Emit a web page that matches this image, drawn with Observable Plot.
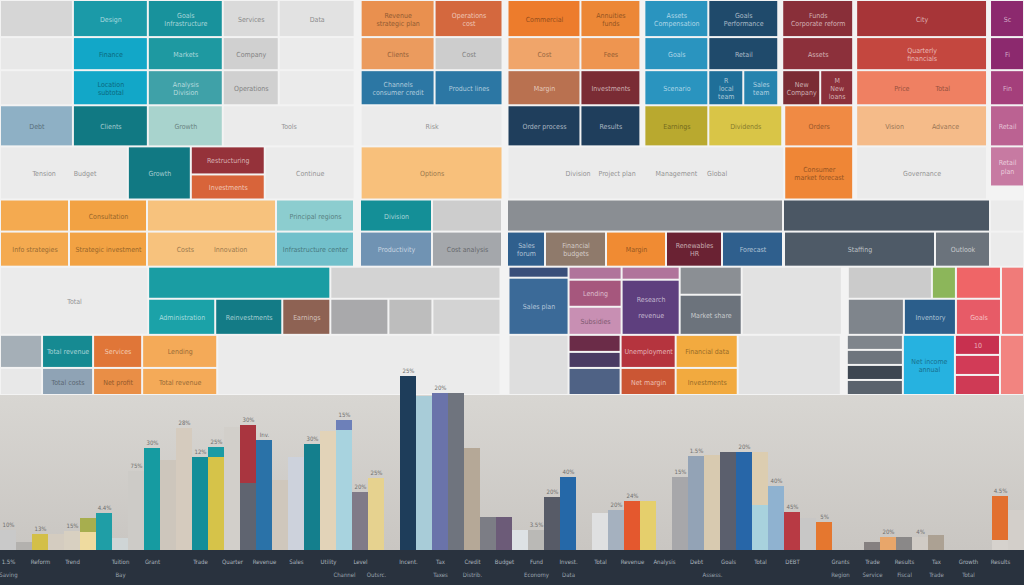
<!DOCTYPE html>
<html>
<head>
<meta charset="utf-8">
<script src="https://cdn.jsdelivr.net/npm/d3@7"></script>
<script src="https://cdn.jsdelivr.net/npm/@observablehq/plot@0.6"></script>
<style>
  html, body { margin: 0; padding: 0; background: #f2f2f2; }
  #chart { width: 1024px; height: 585px; overflow: hidden; position: relative; }
  #chart svg { display: block; overflow: visible; }
</style>
</head>
<body>
<div id="chart"></div>
<script>
// ---------- Mosaic (treemap-like) data: nested shares [share, tone, label] ----------
const mosaicRows = [
  [37, [[73,"g1"],[75,"teal","Design"],[75,"teal2","Goals\nInfrastructure"],[56,"g2","Services"],[76,"g3","Data"],[6,"bg"],
        [74,"or1","Revenue\nstrategic plan"],[68,"or2","Operations\ncost"],[5,"bg"],[73,"or3","Commercial"],[60,"or4","Annuities\nfunds"],[4,"bg"],
        [64,"bl1","Assets\nCompensation"],[70,"nv1","Goals\nPerformance"],[4,"bg"],[71,"mr1","Funds\nCorporate reform"],[3,"bg"],
        [131,"rd1","City"],[3,"bg"],[34,"pu1","Sc"]]],
  [33, [[73,"g4"],[75,"cyan","Finance"],[75,"teal3","Markets"],[56,"g5","Company"],[76,"g6"],[6,"bg"],
        [74,"or5","Clients"],[68,"g7","Cost"],[5,"bg"],[73,"or6","Cost"],[60,"or7","Fees"],[4,"bg"],
        [64,"bl1","Goals"],[70,"nv1","Retail"],[4,"bg"],[71,"mr2","Assets"],[3,"bg"],
        [131,"rd2","Quarterly\nfinancials"],[3,"bg"],[34,"pu1","Fi"]]],
  [35, [[73,"g4"],[75,"cyan","Location\nsubtotal"],[75,"teal4","Analysis\nDivision"],[56,"g5","Operations"],[76,"g6"],[6,"bg"],
        [74,"bl2","Channels\nconsumer credit"],[68,"bl2","Product lines"],[5,"bg"],[73,"br1","Margin"],[60,"mr3","Investments"],[4,"bg"],
        [64,"bl1","Scenario"],[35,"bl3","R\nlocal\nteam"],[35,"bl4","Sales\nteam"],[4,"bg"],[38,"mr3","New\nCompany"],[33,"mr2","M\nNew\nloans"],[3,"bg"],
        [131,"sal","Price             Total"],[3,"bg"],[34,"pu2","Fin"]]],
  [41, [[73,"stl","Debt"],[75,"tlD","Clients"],[75,"ptl","Growth"],[132,"g6","Tools"],[6,"bg"],[142,"g6","Risk"],[5,"bg"],
        [73,"nv2","Order process"],[60,"nv2","Results"],[4,"bg"],[64,"olv","Earnings"],[74,"ylw","Dividends"],[2,"bg"],
        [69,"or8","Orders"],[3,"bg"],[131,"pch","Vision              Advance"],[3,"bg"],[34,"pk1","Retail"]]],
  [53, [[128,"g6","Tension         Budget"],[63,"tlD","Growth"],[74,[[28,"mr4","Restructuring"],[25,"or10","Investments"]]],
        [90,"g6","Continue"],[6,"bg"],[142,"pch2","Options"],[5,"bg"],
        [277,"g6","Division    Project plan          Management     Global"],
        [69,"or9","Consumer\nmarket forecast"],[3,"bg"],[131,"g6","Governance"],[3,"bg"],[34,[[40,"pk2","Retail\nplan"],[13,"bg"]]]]],
  [32, [[69,"or11"],[78,"or12","Consultation"],[129,"or13"],[78,"ptl2","Principal regions"],[6,"bg"],[72,"tl5","Division"],[70,"g7"],[5,"bg"],
        [276,"gr1"],[207,"sl1"],[34,"g6"]]],
  [35, [[69,"or11","Info strategies"],[78,"or12","Strategic investment"],[129,"or13","Costs          Innovation"],[78,"tl6","Infrastructure center"],[6,"bg"],
        [72,"stl2","Productivity"],[70,"g8","Cost analysis"],[5,"bg"],[38,"bl5","Sales\nforum"],[61,"tp1","Financial\nbudgets"],[60,"or14","Margin"],
        [56,"mr5","Renewables\nHR"],[61,"bl5","Forecast"],[1,"bg"],[151,"sl2","Staffing"],[55,"sl3","Outlook"],[34,"g6"]]],
  [68, [[148,"g6","Total"],
        [182,[[32,"tl7"],[36,[[67,"tl8","Administration"],[67,"tl9","Reinvestments"],[48,"br2","Earnings"]]]]],
        [170,[[32,"g9"],[36,[[58,"g12"],[44,"g13"],[68,"g9"]]]]],
        [8,"bg"],
        [60,[[11,"nv3"],[57,"bl6","Sales plan"]]],
        [53,[[13,"pk5"],[27,"pk4","Lending"],[28,"pk6","Subsidies"]]],
        [58,[[13,"pk5"],[55,"pu3","Research\n\nrevenue"]]],
        [62,[[28,"gr2"],[40,"gr3","Market share"]]],
        [100,"g10"],[6,"bg"],
        [108,[[32,[[84,"g11"],[24,"grn"]]],[36,[[56,"gr4"],[52,"bl7","Inventory"]]]]],
        [45,[[32,"rd3"],[36,"rd4","Goals"]]],
        [23,"sal2"]]],
  [60, [[42,[[33,"stl3"],[27,"g4"]]],
        [51,[[33,"tl10","Total revenue"],[27,"stl4","Total costs"]]],
        [49,[[33,"or15","Services"],[27,"or16","Net profit"]]],
        [75,[[33,"or17","Lending"],[27,"or17","Total revenue"]]],
        [283,"g6"],[8,"bg"],[60,"g14"],
        [52,[[17,"mr6"],[16,"pu4"],[27,"pu5"]]],
        [55,[[33,"rd5","Unemployment"],[27,"or18","Net margin"]]],
        [62,[[33,"yl2","Financial data"],[27,"yl2","Investments"]]],
        [103,"g10"],[6,"bg"],
        [56,[[15,"gr4"],[15,"gr5"],[15,"sl4"],[15,"sl5"]]],
        [52,"cy2","Net income\nannual"],
        [45,[[20,"rd6","10"],[20,"rd7"],[20,"rd8"]]],
        [24,"sal3"]]]
];

const mosaicPalette = {
  g1:"#d6d6d6", g2:"#dadada", g3:"#e2e2e2", g4:"#e8e8e8", g5:"#d0d0d0", g6:"#ebebeb", g7:"#cdcdcd", g8:"#a4a7ab",
  g9:"#d3d3d3", g10:"#e2e2e2", g11:"#cbcbcb", g12:"#a9a9ab", g13:"#bdbdbd", g14:"#dedede",
  teal:"#1b9aa8", teal2:"#18929c", teal3:"#1e99a1", teal4:"#3fa1a8", cyan:"#12a7c8", tlD:"#117983",
  ptl:"#a8d3cd", ptl2:"#8ccdcf", tl5:"#148f97", tl6:"#72c0cb", tl7:"#1a9da3", tl8:"#1ba2a8", tl9:"#137b86", tl10:"#168a92",
  stl:"#8eb0c5", stl2:"#7093b3", stl3:"#a5afb7", stl4:"#8fa3b5",
  or1:"#e9904f", or2:"#d4683e", or3:"#ed7c2c", or4:"#ec8736", or5:"#eb9b5e", or6:"#f0a56a", or7:"#ee9550",
  or8:"#f08a44", or9:"#ef8636", or10:"#d8643a", or11:"#f4aa50", or12:"#f2a243", or13:"#f7c27d", or14:"#f08b33",
  or15:"#e07638", or16:"#e98e46", or17:"#f4aa58", or18:"#cb5634", pch:"#f5bb89", pch2:"#f8c07b",
  bl1:"#2a94bf", bl2:"#2c77a4", bl3:"#1f6f99", bl4:"#2683ae", bl5:"#2f5f8d", bl6:"#3b6a98", bl7:"#2b5e8b",
  nv1:"#1f4a6b", nv2:"#1f3e5c", nv3:"#3a4f7a",
  mr1:"#892f39", mr2:"#8c303b", mr3:"#7a2c34", mr4:"#95323a", mr5:"#6a2233", mr6:"#6b2c48",
  br1:"#b97150", br2:"#8e6253", tp1:"#8f7a6b", olv:"#b9a92f", ylw:"#d9c547", yl2:"#f2aa3f",
  rd1:"#a73538", rd2:"#c4473f", rd3:"#ef6567", rd4:"#e75b67", rd5:"#b5343e", rd6:"#c8304f", rd7:"#d23b57", rd8:"#cf3a55",
  sal:"#ef8062", sal2:"#f07b79", sal3:"#f28480",
  pu1:"#8c296e", pu2:"#a43f7b", pu3:"#5e3f7e", pu4:"#4a3b63", pu5:"#4f6285",
  pk1:"#bb6292", pk2:"#c77aa2", pk3:"#d08fb0", pk4:"#a6577d", pk5:"#b0749b", pk6:"#c88fb3",
  gr1:"#8a8e93", gr2:"#8b8f94", gr3:"#6c737c", gr4:"#7f858c", gr5:"#6e757d",
  sl1:"#4b5764", sl2:"#4e5a67", sl3:"#6b737c", sl4:"#3d4651", sl5:"#5a636d",
  grn:"#8cb65a", cy2:"#26b2e0"
};

// ---------- Bar chart data ----------
const barSlot  = [0,1,2,3,4,5,5,6,7,8,9,10,11,12,13,13,14,15,15,16,17,18,19,20,21,21,22,23,
                  25,26,27,28,29,30,31,32,33,34,35,37,38,39,40,42,43,44,45,46,47,47,48,49,50,51,
                  54,55,56,57,58,62,62,63];
const barValue = [20,8,16,16,19,18,14,37,12,79,102,90,122,93,93,10,123,67,58,110,70,93,106,119,120,10,58,72,
                  174,154,157,157,102,33,33,20,20,53,73,37,40,49,49,73,94,95,98,98,45,53,64,38,32,28,
                  8,13,13,13,15,10,44,40];
const barTone  = ["b1","b2","b3","b4","b5","b6","b7","b8","b9","b10","b11","b12","b13","b14","b15","b16","b17","b18","b19",
                  "b20","b21","b22","b23","b24","b25","b26","b27","b28","b29","b30","b31","b32","b33","b34","b35","b36",
                  "b37","b38","b39","b40","b41","b42","b43","b44","b45","b46","b47","b48","b49","b50","b51","b52","b53",
                  "b54","b55","b56","b57","b58","b59","b60","b61","b62"];
const barPalette = {
  b1:"#c9c9c9", b2:"#b3b1ae", b3:"#d3bf48", b4:"#d4ccc0", b5:"#d8d0c1", b6:"#efdb9f", b7:"#a7ae4e", b8:"#1f9ea6",
  b9:"#cfd5d6", b10:"#cdcbc7", b11:"#169ba1", b12:"#cdc6bc", b13:"#d5cbbe", b14:"#138e99", b15:"#d6c349", b16:"#1a9ba4",
  b17:"#d2cfca", b18:"#5f6470", b19:"#a9353f", b20:"#2a72a8", b21:"#cfc7bc", b22:"#cdd2dc", b23:"#147f8d", b24:"#e2d3b8",
  b25:"#a8d3df", b26:"#6d80b9", b27:"#807a88", b28:"#e6d28f", b29:"#1e3d5a", b30:"#a8ccd8", b31:"#6a73aa", b32:"#6f747e",
  b33:"#b5a897", b34:"#7c7d85", b35:"#6c5b78", b36:"#dde2e5", b37:"#bab9b6", b38:"#575b67", b39:"#2568a8", b40:"#dfe0e1",
  b41:"#a5b1bf", b42:"#e4582e", b43:"#e5cf6c", b44:"#a7a7aa", b45:"#93a3b6", b46:"#d8cab0", b47:"#5b5f6d", b48:"#2766a8",
  b49:"#a8d2dd", b50:"#dccdb0", b51:"#8fb2d0", b52:"#b83a44", b53:"#c8c7c6", b54:"#e5772f", b55:"#858080", b56:"#e8a66a",
  b57:"#8a8888", b58:"#d0cbc5", b59:"#aca193", b60:"#d6d2cd", b61:"#e2702f", b62:"#d3cfca"
};
const barLabelSlot = [0,2,4,6,8,9,11,12,13,15,16,19,21,22,23,25,27,33,34,35,38,39,42,43,46,48,49,51,55,57,62];
const barLabelText = ["10%","13%","15%","4.4%","75%","30%","28%","12%","25%","30%","Inv.","30%",
                      "15%","20%","25%","25%","20%","3.5%","20%","40%","20%","24%","15%","1.5%",
                      "20%","40%","45%","5%","20%","4%","4.5%"];
const axisTopSlot = [0,2,4,7,9,12,14,16,18,20,22,25,27,29,31,33,35,37,39,41,43,45,47,49,52,54,56,58,60,62];
const axisTopText = ["1.5%","Reform","Trend","Tuition","Grant","Trade","Quarter","Revenue","Sales","Utility","Level",
                     "Incent.","Tax","Credit","Budget","Fund","Invest.","Total","Revenue","Analysis","Debt","Goals",
                     "Total","DEBT","Grants","Trade","Results","Tax","Growth","Results"];
const axisBottomSlot = [0,7,21,23,27,29,33,35,44,52,54,56,58,60];
const axisBottomText = ["Saving","Bay","Channel","Outsrc.","Taxes","Distrib.","Economy","Data","Assess.",
                        "Region","Service","Fiscal","Trade","Total"];

// ---------- layout of the mosaic from nested shares ----------
function layout(nodes, x0, y0, x1, y1, dir, out) {
  const total = d3.sum(nodes, n => n[0]);
  let pos = dir === "y" ? y0 : x0;
  const extent = dir === "y" ? (y1 - y0) : (x1 - x0);
  for (const n of nodes) {
    const a = pos, b = pos + extent * n[0] / total;
    pos = b;
    const box = dir === "y" ? [x0, a, x1, b] : [a, y0, b, y1];
    if (Array.isArray(n[1])) layout(n[1], ...box, dir === "y" ? "x" : "y", out);
    else if (n[1] !== "bg") out.push({x1: box[0], y1: box[1], x2: box[2], y2: box[3], tone: n[1], label: n[2] || ""});
  }
  return out;
}
const tiles = layout(mosaicRows, 0, 0, 1024, 395, "y", []);
const labelColor = c => {
  const col = d3.color(c);
  return d3.lab(c).l > 62 ? col.darker(1.3).formatHex() : d3.interpolateRgb(c, "#ffffff")(0.62);
};

const fontStack = "'DejaVu Sans Condensed', 'Liberation Sans Narrow', sans-serif";

const mosaicChart = Plot.plot({
  width: 1024, height: 395, margin: 0,
  x: {domain: [0, 1024], range: [0, 1024], axis: null},
  y: {domain: [0, 395], range: [0, 395], axis: null},
  style: {background: "#f3f3f3", overflow: "visible", fontFamily: fontStack},
  marks: [
    Plot.rect(tiles, {x1: "x1", x2: "x2", y1: "y1", y2: "y2", fill: d => mosaicPalette[d.tone], inset: 1}),
    Plot.text(tiles.filter(d => d.label), {
      x: d => (d.x1 + d.x2) / 2, y: d => (d.y1 + d.y2) / 2, text: "label",
      fill: d => labelColor(mosaicPalette[d.tone]), fontSize: 7, lineHeight: 1.15
    })
  ]
});

const bars = barSlot.map((s, i) => ({slot: s, value: barValue[i], tone: barTone[i]}));
const totals = d3.rollup(bars, v => d3.sum(v, d => d.value), d => d.slot);
const barLabels = barLabelSlot.map((s, i) => ({slot: s, text: barLabelText[i], total: totals.get(s) || 0}));
const axisTopRow = axisTopSlot.map((s, i) => ({slot: s, text: axisTopText[i]}));
const axisBottomRow = axisBottomSlot.map((s, i) => ({slot: s, text: axisBottomText[i]}));

const barChart = Plot.plot({
  width: 1024, height: 190, marginTop: 0, marginBottom: 35, marginLeft: 0, marginRight: 0,
  x: {type: "band", domain: d3.range(64), padding: 0, axis: null},
  y: {domain: [0, 155], axis: null},
  style: {
    background: "linear-gradient(to bottom, #d8d6d2 0px, #c9c6c2 155px, #29323e 155px, #29323e 190px)",
    overflow: "visible", fontFamily: fontStack
  },
  marks: [
    Plot.barY(bars, {x: "slot", y: "value", fill: d => barPalette[d.tone]}),
    Plot.text(barLabels, {x: "slot", y: "total", text: "text", dy: -5, fill: "#6f6f6f", fontSize: 6}),
    Plot.text(axisTopRow, {x: "slot", y: 0, text: "text", dy: 12, fill: "#aab2bd", fontSize: 6}),
    Plot.text(axisBottomRow, {x: "slot", y: 0, text: "text", dy: 25, fill: "#9aa3ae", fontSize: 6})
  ]
});

const chartDiv = document.getElementById("chart");
chartDiv.appendChild(mosaicChart);
chartDiv.appendChild(barChart);
</script>
</body>
</html>
